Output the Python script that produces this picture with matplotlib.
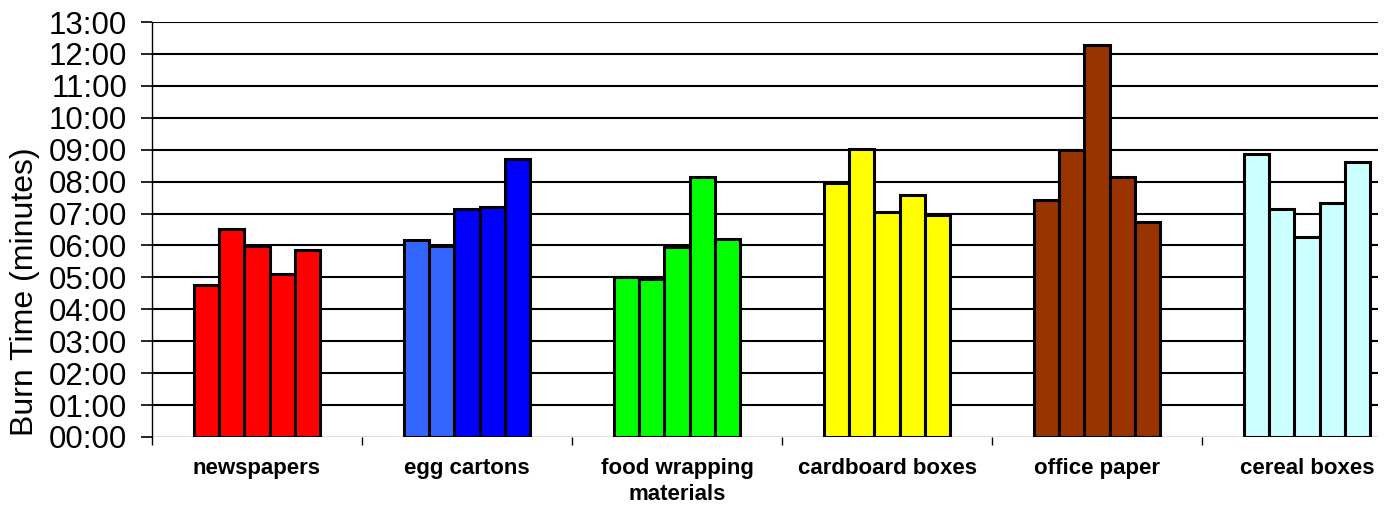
import matplotlib
matplotlib.use("Agg")
import matplotlib.pyplot as plt
import numpy as np
from matplotlib.ticker import FixedLocator

plt.rcParams['font.family'] = ['Liberation Sans', 'DejaVu Sans']

# Burn times in minutes, five trials per material
categories = ["newspapers", "egg cartons", "food wrapping\nmaterials",
              "cardboard boxes", "office paper", "cereal boxes"]
newspapers = [4.76, 6.53, 5.97, 5.12, 5.85]
egg_cartons = [6.17, 5.97, 7.13, 7.20, 8.70]
food_wrapping = [5.01, 4.96, 5.96, 8.14, 6.20]
cardboard_boxes = [7.95, 9.02, 7.04, 7.57, 6.94]
office_paper = [7.43, 8.99, 12.28, 8.13, 6.72]
cereal_boxes = [8.85, 7.13, 6.25, 7.33, 8.63]
series = [newspapers, egg_cartons, food_wrapping,
          cardboard_boxes, office_paper, cereal_boxes]

colors = [
    ["#FF0000"] * 5,
    ["#3366FF", "#3366FF", "#0000FF", "#0000FF", "#0000FF"],
    ["#00FF00"] * 5,
    ["#FFFF00"] * 5,
    ["#993300"] * 5,
    ["#CCFFFF"] * 5,
]

y_ticks = list(range(0, 14))
y_labels = [f"{m:02d}:00" for m in y_ticks]

W, H = 1391, 516
fig = plt.figure(figsize=(W / 100, H / 100), dpi=100)
ax = fig.add_axes([152 / W, 1 - 437 / H, (1378 - 152) / W, (437 - 22) / H])

bar_w = 0.12
offsets = (np.arange(5) - 2) * bar_w
for gi, vals in enumerate(series):
    ax.bar(gi + offsets, vals, width=bar_w, color=colors[gi],
           edgecolor="black", linewidth=2.2, zorder=3)

ax.set_ylim(0, 13)
ax.set_xlim(-0.5, (1378 - 152) / 210 - 0.5)

ax.set_yticks(y_ticks)
ax.set_yticklabels(y_labels, fontsize=22.5)
ax.yaxis.grid(True, color="black", linewidth=1.5, zorder=0)
ax.get_ygridlines()[0].set_linewidth(0.9)
ax.set_axisbelow(True)

# group boundaries carry the tick marks, names sit at group centres
ax.xaxis.set_major_locator(FixedLocator(np.arange(len(categories) + 1) - 0.5))
ax.set_xticklabels([""] * (len(categories) + 1))
ax.set_xticks(np.arange(len(categories)), minor=True)
ax.set_xticklabels(categories, minor=True, fontsize=16, fontweight="bold",
                   linespacing=1.3)
ax.tick_params(axis="x", which="major", direction="out", length=6, width=1)
ax.tick_params(axis="x", which="minor", length=0, pad=15)
ax.tick_params(axis="y", direction="out", length=8, width=1.2, pad=10)

for side in ["top", "right", "bottom"]:
    ax.spines[side].set_visible(False)
ax.spines["left"].set_linewidth(1)

ax.set_ylabel("Burn Time (minutes)", fontsize=23)
ax.yaxis.set_label_coords((40 - 152) / (1378 - 152), (437 - 292) / (437 - 22))

fig.savefig("out.png", dpi=100, facecolor="white")
